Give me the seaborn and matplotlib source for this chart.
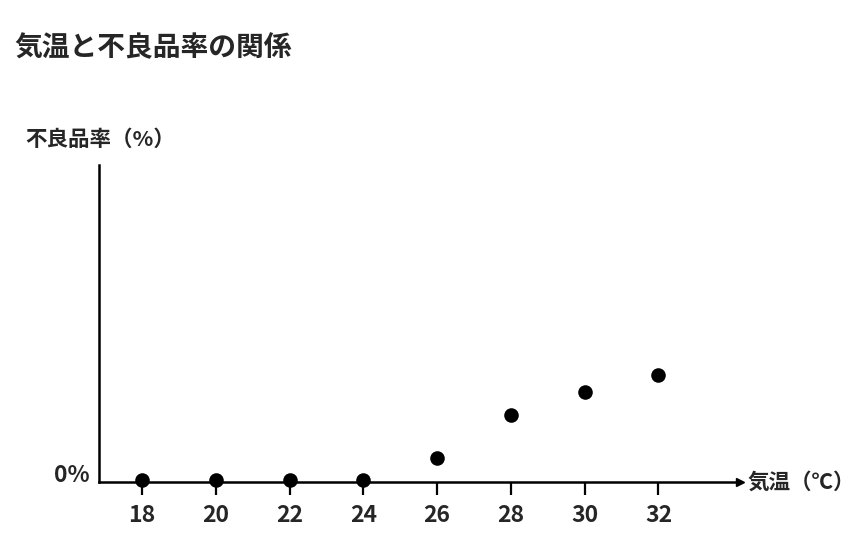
import matplotlib.pyplot as plt
import seaborn as sns
import pandas as pd

# data (defect rate, arbitrary units)
temps = [18, 20, 22, 24, 26, 28, 30, 32]
defect_rate = [0.03, 0.03, 0.03, 0.03, 0.45, 1.26, 1.7, 2.02]
x_ticks = [18, 20, 22, 24, 26, 28, 30, 32]

sns.set_style('white')
plt.rcParams['font.family'] = ['Noto Sans CJK JP', 'DejaVu Sans']

df = pd.DataFrame({'temp': temps, 'rate': defect_rate})

fig = plt.figure(figsize=(8.6, 5.59), dpi=100)
ax = fig.add_axes([0.115, 0.1377, 0.745, 0.5673])

sns.scatterplot(data=df, x='temp', y='rate', ax=ax, color='black', s=110,
                edgecolor='black', linewidth=0, zorder=5, clip_on=False)

ax.set_xlim(16.83, 34.2)
ax.set_ylim(0, 6.0)

for side in ['top', 'right']:
    ax.spines[side].set_visible(False)
for side in ['left', 'bottom']:
    ax.spines[side].set_linewidth(1.8)
    ax.spines[side].set_color('black')

# arrow heads on the axes
ax.plot(1, 0, '>k', markersize=6, transform=ax.get_yaxis_transform(), clip_on=False)
ax.plot(0, 1, '^k', markersize=5, transform=ax.get_xaxis_transform(), clip_on=False)

ax.set_xticks(x_ticks)
ax.set_xticklabels([str(t) for t in x_ticks], fontsize=16.5, fontweight='bold')
ax.tick_params(axis='x', direction='out', length=9, width=1.6, color='black', pad=7, bottom=True)
ax.set_yticks([0])
ax.set_yticklabels(['0%'], fontsize=16.5, fontweight='bold', va='baseline')
ax.tick_params(axis='y', length=0, pad=7)

ax.set_xlabel('')
ax.set_ylabel('')

fig.text(0.869, 0.1377, '気温（℃）', fontsize=15.5, fontweight='bold', va='center', ha='left')
fig.text(0.029, 0.751, '不良品率（%）', fontsize=15.5, fontweight='bold', va='center', ha='left')
fig.text(0.017, 0.914, '気温と不良品率の関係', fontsize=20, fontweight='bold', va='center', ha='left')

plt.savefig('out.png', dpi=100, facecolor='white')
plt.close()
